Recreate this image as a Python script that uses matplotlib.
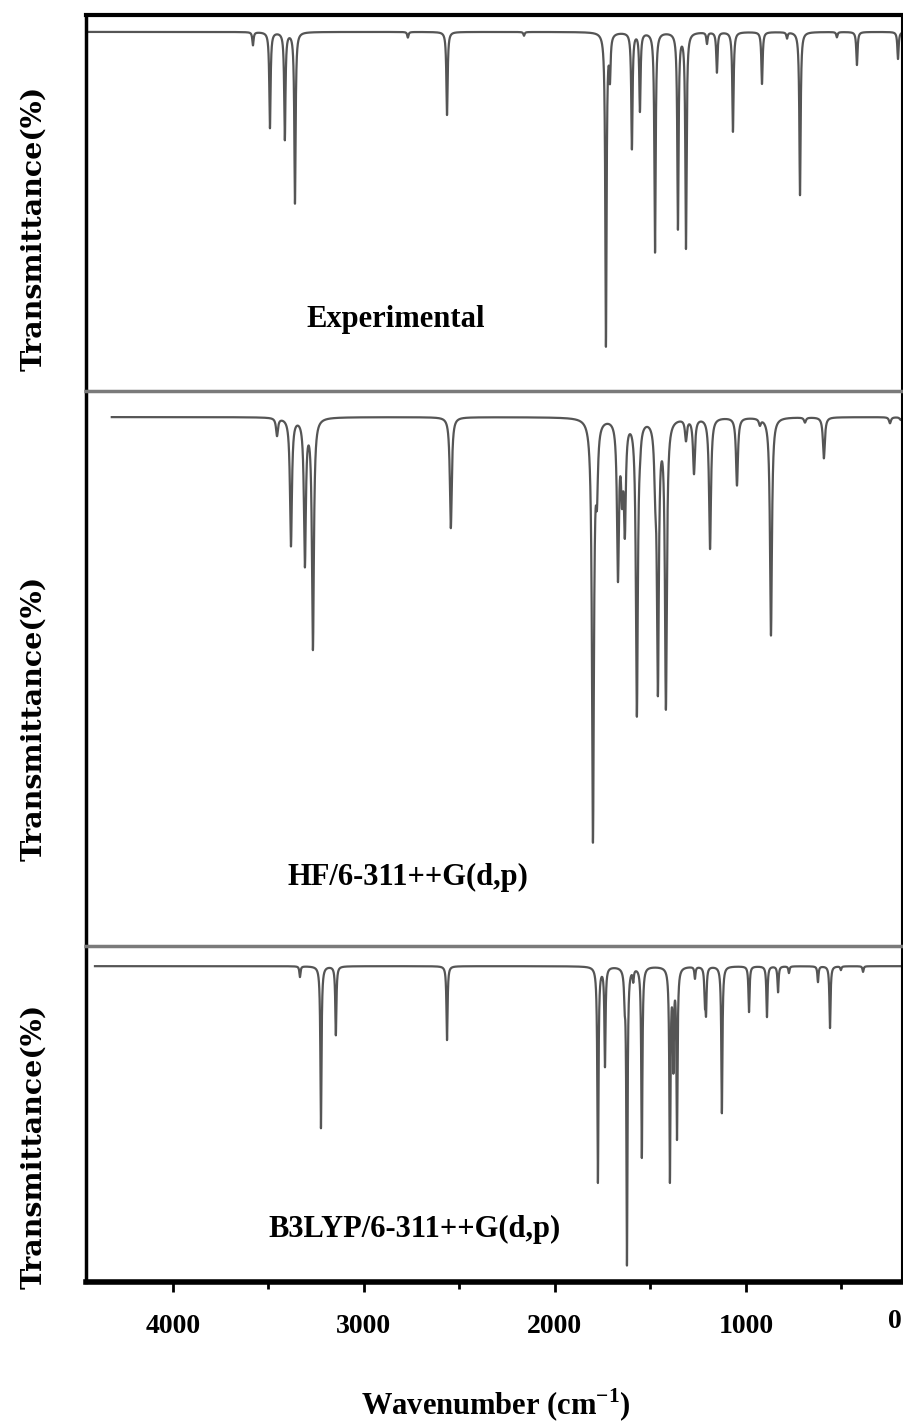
import numpy as np
import matplotlib.pyplot as plt
from matplotlib.ticker import MultipleLocator

plt.rcParams['mathtext.fontset'] = 'custom'
plt.rcParams['mathtext.rm'] = 'Liberation Serif:bold'
plt.rcParams['mathtext.bf'] = 'Liberation Serif:bold'

# peaks: position (cm-1) and transmittance (%) at the bottom of each dip
exp_freq = [3581, 3492, 3414, 3361, 2770, 2565, 2162, 1733, 1712, 1597, 1555, 1476,
            1356, 1314, 1204, 1152, 1068, 916, 785, 717, 524, 419, 204]
exp_trans = [92.0, 70.0, 67.0, 50.0, 94.0, 73.4, 94.5, 12.2, 84.6, 64.6, 74.7, 37.0,
             43.5, 38.3, 92.5, 84.8, 69.0, 81.7, 93.9, 52.1, 94.1, 86.7, 88.3]
exp_base = 95.5

hf_freq = [3455, 3382, 3309, 3267, 2545, 1801, 1780, 1670, 1649, 1634, 1571, 1555,
           1475, 1461, 1419, 1314, 1272, 1188, 1047, 927, 869, 691, 592, 246, 190]
hf_trans = [92.1, 72.3, 69.2, 53.9, 75.3, 19.6, 84.5, 67.4, 84.0, 76.4, 42.2, 93.5,
            87.0, 47.6, 43.8, 91.5, 85.4, 71.7, 83.1, 94.2, 56.0, 94.4, 87.9, 94.2, 94.8]
hf_base = 95.3

b3_freq = [3335, 3225, 3147, 2565, 1775, 1738, 1635, 1623, 1590, 1545, 1398, 1380,
           1361, 1267, 1215, 1209, 1126, 984, 890, 832, 775, 623, 560, 503, 387]
b3_trans = [90.8, 45.8, 73.5, 72.0, 29.8, 64.6, 86.9, 5.7, 90.5, 37.2, 31.0, 66.0,
            43.8, 90.5, 84.8, 81.5, 50.3, 80.4, 78.9, 86.3, 92.0, 89.3, 75.6, 92.9, 92.3]
b3_base = 94.0

panel_names = ['Experimental', 'HF/6-311++G(d,p)', 'B3LYP/6-311++G(d,p)']
x_left, x_right = 4455, 183


def spectrum(start, freq, trans, base, w):
    wn = np.linspace(start, x_right, 40000)
    t = np.full_like(wn, base)
    for f, tr in zip(freq, trans):
        t -= (base - tr) * w**2 / ((wn - f)**2 + w**2)
    return wn, t


W, H = 904, 1424
fig = plt.figure(figsize=(W / 100, H / 100), dpi=100)

def px_axes(top, bottom):
    return fig.add_axes([86 / W, 1 - bottom / H, (902 - 86) / W, (bottom - top) / H])

ax1 = px_axes(15, 391)
ax2 = px_axes(391, 946)
ax3 = px_axes(946, 1282)

data = [(ax1, x_left, exp_freq, exp_trans, exp_base, 4.0),
        (ax2, 4320, hf_freq, hf_trans, hf_base, 6.0),
        (ax3, 4408, b3_freq, b3_trans, b3_base, 3.5)]

for ax, start, f, t, b, w in data:
    wn, tt = spectrum(start, f, t, b, w)
    ax.plot(wn, tt, color='#555555', lw=1.6)
    ax.set_xlim(x_left, x_right)
    ax.set_ylim(0, 100)
    ax.set_yticks([])
    ax.spines['left'].set_linewidth(2.5)
    ax.spines['right'].set_linewidth(1.5)
    ax.spines['bottom'].set_visible(False)

ax1.spines['top'].set_linewidth(3)
for ax in (ax2, ax3):
    ax.spines['top'].set_color('#7a7a7a')
    ax.spines['top'].set_linewidth(2.5)
ax3.spines['bottom'].set_visible(True)
ax3.spines['bottom'].set_linewidth(4)

for ax in (ax1, ax2):
    ax.set_xticks([])

ax3.set_xticks([4000, 3000, 2000, 1000])
ax3.xaxis.set_minor_locator(MultipleLocator(500))
ax3.tick_params(axis='x', which='major', direction='out', length=7, width=2, pad=16)
ax3.tick_params(axis='x', which='minor', direction='out', length=5, width=2)
for lab in ax3.get_xticklabels():
    lab.set_fontfamily('Liberation Serif')
    lab.set_fontweight('bold')
    lab.set_fontsize(20)
fig.text(895 / W, 1 - 1322 / H, '0', ha='center', va='center',
         family='Liberation Serif', weight='bold', fontsize=20)

for yc in (228, 718, 1146):
    fig.text(34 / W, 1 - yc / H, 'Transmittance(%)', rotation=90, ha='center', va='center',
             family='DejaVu Serif', weight='bold', fontsize=20.5)

for name, (xc, yc) in zip(panel_names, [(396, 320), (408, 877), (415, 1229)]):
    fig.text(xc / W, 1 - yc / H, name, ha='center', va='center',
             family='Liberation Serif', weight='bold', fontsize=22)

fig.text(496 / W, 1 - 1405 / H, 'Wavenumber (cm$^{-1}$)', ha='center', va='center',
         family='Liberation Serif', weight='bold', fontsize=22)

fig.savefig('out.png', dpi=100)
